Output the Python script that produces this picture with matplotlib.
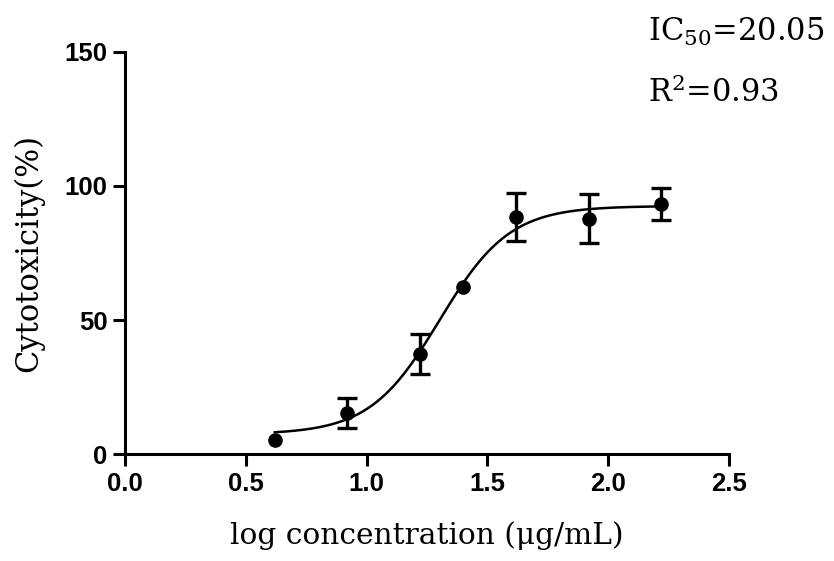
import numpy as np
import matplotlib.pyplot as plt
from matplotlib import font_manager as fm

# measured points (mean +/- SD)
log_conc = [0.62, 0.92, 1.22, 1.40, 1.62, 1.92, 2.22]
cytotox = [5.5, 15.5, 37.5, 62.5, 88.5, 87.8, 93.3]
sd = [0.0, 5.6, 7.5, 0.0, 8.9, 9.0, 5.9]

# fitted 4PL parameters
bottom, top, hill = 7.5, 92.5, 3.0
ic50 = 20.05
r2 = 0.93

xticks = [0.0, 0.5, 1.0, 1.5, 2.0, 2.5]
yticks = [0, 50, 100, 150]

# pick the regular-width Liberation Sans Bold (not the Narrow one)
bold_file = None
for f in fm.fontManager.ttflist:
    if f.name == 'Liberation Sans' and f.weight == 700 and f.style == 'normal' \
            and 'Narrow' not in f.fname:
        bold_file = f.fname
        break
tick_font = fm.FontProperties(fname=bold_file, size=18.5) if bold_file else \
    fm.FontProperties(family='DejaVu Sans', weight='bold', size=17)

fig = plt.figure(figsize=(8.34, 5.61), dpi=100)
ax = fig.add_axes([0.150, 0.190, 0.724, 0.718])

xf = np.linspace(log_conc[0], log_conc[-1], 300)
yf = bottom + (top - bottom) / (1 + 10 ** ((np.log10(ic50) - xf) * hill))
ax.plot(xf, yf, color='black', lw=1.8)

xe = [x for x, s in zip(log_conc, sd) if s > 0]
ye = [y for y, s in zip(cytotox, sd) if s > 0]
se = [s for s in sd if s > 0]
ax.errorbar(xe, ye, yerr=se, fmt='none', ecolor='black',
            elinewidth=2.4, capsize=7.5, capthick=2.4)
ax.plot(log_conc, cytotox, 'o', color='black', ms=9.5)

ax.set_xlim(0, 2.5)
ax.set_ylim(0, 150)
ax.set_xticks(xticks)
ax.set_yticks(yticks)
ax.set_xticklabels([f"{t:.1f}" for t in xticks])
ax.set_yticklabels([str(t) for t in yticks])

for s in ['top', 'right']:
    ax.spines[s].set_visible(False)
for s in ['left', 'bottom']:
    ax.spines[s].set_linewidth(2.2)
ax.tick_params(width=2.2, length=8.5, pad=4)
for lab in ax.get_xticklabels() + ax.get_yticklabels():
    lab.set_fontproperties(tick_font)

ax.set_xlabel('log concentration (μg/mL)', family='DejaVu Serif', fontsize=21.3, labelpad=18.5)
ax.set_ylabel('Cytotoxicity(%)', family='DejaVu Serif', fontsize=22, labelpad=15)

fig.text(0.777, 0.927, r'IC$_{50}$=20.05', family='DejaVu Serif', fontsize=22,
         math_fontfamily='dejavuserif')
fig.text(0.777, 0.818, r'R$^{2}$=0.93', family='DejaVu Serif', fontsize=22,
         math_fontfamily='dejavuserif')

fig.savefig('out.png', dpi=100)
